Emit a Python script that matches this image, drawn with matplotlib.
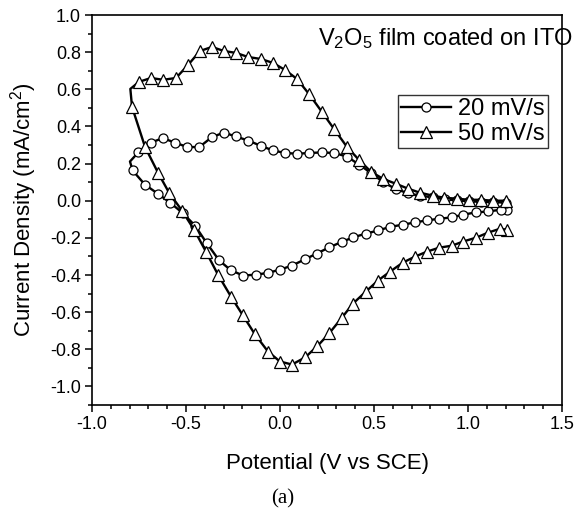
import matplotlib
matplotlib.use("Agg")
import matplotlib.pyplot as plt
from matplotlib.ticker import MultipleLocator

plt.rcParams['font.family'] = ['Liberation Sans', 'DejaVu Sans']
plt.rcParams['mathtext.fontset'] = 'custom'
plt.rcParams['mathtext.rm'] = 'Liberation Sans'
plt.rcParams['axes.unicode_minus'] = False

# 50 mV/s : lower (cathodic) branch from right to left, then upper branch left to right
x50_lower = [1.207, 1.170, 1.106, 1.043, 0.973, 0.915, 0.846, 0.782, 0.718, 0.654,
             0.585, 0.521, 0.457, 0.388, 0.330, 0.261, 0.197, 0.133, 0.064, 0.000,
             -0.064, -0.133, -0.197, -0.261, -0.330, -0.394, -0.457, -0.521, -0.590,
             -0.649, -0.718, -0.787]
y50_lower = [-0.156, -0.151, -0.172, -0.199, -0.220, -0.242, -0.253, -0.274, -0.301, -0.333,
             -0.382, -0.430, -0.489, -0.554, -0.629, -0.715, -0.785, -0.844, -0.882, -0.866,
             -0.812, -0.720, -0.618, -0.516, -0.398, -0.274, -0.156, -0.054, 0.043,
             0.151, 0.290, 0.505]
x50_upper = [-0.796, -0.750, -0.686, -0.622, -0.553, -0.489, -0.426, -0.362, -0.298, -0.234,
             -0.170, -0.101, -0.037, 0.027, 0.090, 0.154, 0.223, 0.287, 0.356, 0.420,
             0.484, 0.548, 0.617, 0.681, 0.745, 0.814, 0.872, 0.941, 1.005, 1.069,
             1.133, 1.202, 1.215]
y50_upper = [0.602, 0.640, 0.661, 0.651, 0.661, 0.731, 0.806, 0.828, 0.806, 0.796,
             0.774, 0.763, 0.742, 0.704, 0.656, 0.575, 0.478, 0.387, 0.290, 0.220,
             0.156, 0.118, 0.091, 0.065, 0.043, 0.027, 0.016, 0.011, 0.005, 0.005,
             0.000, 0.000, -0.005]

# 20 mV/s
x20_lower = [1.206, 1.176, 1.108, 1.041, 0.975, 0.913, 0.847, 0.780, 0.718, 0.653,
             0.585, 0.523, 0.457, 0.390, 0.328, 0.262, 0.195, 0.133, 0.065, 0.000,
             -0.065, -0.129, -0.195, -0.261, -0.324, -0.390, -0.452, -0.518, -0.585,
             -0.650, -0.718, -0.784]
y20_lower = [-0.052, -0.048, -0.058, -0.063, -0.075, -0.090, -0.097, -0.106, -0.117, -0.129,
             -0.141, -0.160, -0.177, -0.197, -0.222, -0.251, -0.285, -0.315, -0.349, -0.371,
             -0.389, -0.398, -0.403, -0.375, -0.321, -0.228, -0.134, -0.066, -0.010,
             0.038, 0.086, 0.163]
x20_upper = [-0.798, -0.754, -0.686, -0.624, -0.559, -0.493, -0.429, -0.363, -0.298, -0.236,
             -0.169, -0.103, -0.039, 0.027, 0.092, 0.156, 0.222, 0.289, 0.355, 0.422,
             0.484, 0.550, 0.615, 0.679, 0.745, 0.812, 0.875, 0.940, 1.005, 1.070,
             1.135, 1.200]
y20_upper = [0.211, 0.260, 0.313, 0.337, 0.313, 0.289, 0.289, 0.342, 0.367, 0.346,
             0.324, 0.296, 0.271, 0.257, 0.253, 0.257, 0.260, 0.257, 0.238, 0.194,
             0.149, 0.100, 0.063, 0.041, 0.027, 0.018, 0.008, 0.002, -0.003, -0.006,
             -0.008, -0.010]

labels = ['20 mV/s', '50 mV/s']
title_text = r'$\mathregular{V_2O_5}$ film coated on ITO'

fig = plt.figure(figsize=(5.76, 5.11), dpi=100)
ax = fig.add_axes([92/576, 1-405/511, 470/576, 390/511])

x20 = x20_lower + x20_upper
y20 = y20_lower + y20_upper
x50 = x50_lower + x50_upper
y50 = y50_lower + y50_upper
# skip marker at the turning corners
mk20 = [i for i in range(len(x20)) if i != len(x20_lower)]
mk50 = [i for i in range(len(x50)) if i not in (len(x50_lower), len(x50) - 1)]

ax.plot(x20, y20, color='black', lw=1.7, marker='o', markersize=6.5,
        markerfacecolor='white', markeredgecolor='black', markeredgewidth=0.9,
        markevery=mk20, label=labels[0])
ax.plot(x50, y50, color='black', lw=1.7, marker='^', markersize=8,
        markerfacecolor='white', markeredgecolor='black', markeredgewidth=0.9,
        markevery=mk50, label=labels[1])

ax.set_xlim(-1.0, 1.5)
ax.set_ylim(-1.1, 1.0)
ax.xaxis.set_major_locator(MultipleLocator(0.5))
ax.xaxis.set_minor_locator(MultipleLocator(0.1))
ax.yaxis.set_minor_locator(MultipleLocator(0.1))
ax.set_yticks([-1.0, -0.8, -0.6, -0.4, -0.2, 0.0, 0.2, 0.4, 0.6, 0.8, 1.0])
ax.tick_params(which='both', direction='out', top=False, right=False, width=1.1)
ax.tick_params(which='major', length=5, labelsize=13, pad=3)
ax.tick_params(which='minor', length=3)
for s in ax.spines.values():
    s.set_linewidth(1.2)

ax.set_xlabel('Potential (V vs SCE)', fontsize=16, labelpad=14)
ax.set_ylabel(r'Current Density (mA/cm$^\mathregular{2}$)', fontsize=16, labelpad=8)

ax.text(0.481, 0.923, title_text, transform=ax.transAxes, fontsize=17,
        ha='left', va='baseline')

leg = ax.legend(loc='upper right', bbox_to_anchor=(0.970, 0.795), borderaxespad=0,
                fontsize=17, frameon=True, fancybox=False, handlelength=2.1,
                handletextpad=0.3, borderpad=0.15, labelspacing=0.1)
leg.get_frame().set_edgecolor('black')
leg.get_frame().set_linewidth(1.0)

fig.text(283/576, 1-499/511, '(a)', fontsize=15, ha='center', va='center',
         family=['Liberation Serif', 'DejaVu Serif'])

fig.savefig('out.png', dpi=100)
